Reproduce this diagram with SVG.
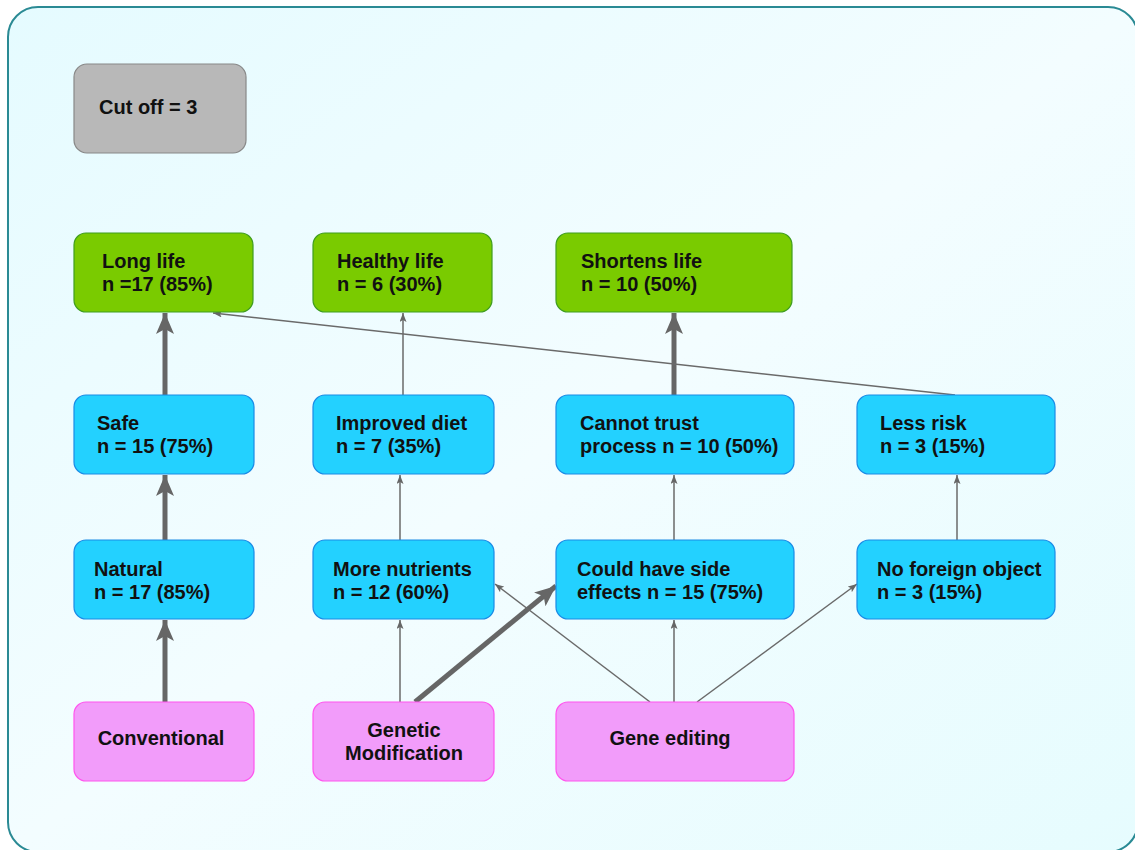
<svg xmlns="http://www.w3.org/2000/svg" width="1135" height="850" viewBox="0 0 1135 850">
<defs>
<linearGradient id="bg" x1="0" y1="0" x2="1" y2="1">
<stop offset="0" stop-color="#e5fbff"/>
<stop offset="0.5" stop-color="#f3fdff"/>
<stop offset="1" stop-color="#e6fcfe"/>
</linearGradient>
<marker id="big" markerUnits="userSpaceOnUse" markerWidth="24" markerHeight="20" refX="21" refY="9" orient="auto">
<path d="M0,0 L21,9 L0,18 L5,9 Z" fill="#666"/>
</marker>
<marker id="small" markerUnits="userSpaceOnUse" markerWidth="11" markerHeight="8" refX="9" refY="3.5" orient="auto">
<path d="M0,0 L9,3.5 L0,7 L2,3.5 Z" fill="#666"/>
</marker>
<style>
.t{font-family:"Liberation Sans",Arial,sans-serif;font-size:20px;font-weight:bold;fill:#111}
.c{text-anchor:middle}
.grn{fill:#7acb00;stroke:#3f9d1f;stroke-width:1.2}
.blu{fill:#23d1ff;stroke:#1a8be6;stroke-width:1.2}
.pnk{fill:#f29cfa;stroke:#ff55ee;stroke-width:1.2}
.gry{fill:#b8b8b8;stroke:#888;stroke-width:1.2}
.thin{stroke:#6a6a6a;stroke-width:1.5;fill:none;marker-end:url(#small)}
.thick{stroke:#666;stroke-width:5;fill:none;marker-end:url(#big)}
</style>
</defs>
<rect x="8" y="7" width="1130" height="845" rx="30" fill="url(#bg)" stroke="#2a8a94" stroke-width="2"/>

<g id="connectors">
<line class="thick" x1="165" y1="702" x2="165" y2="620"/>
<line class="thick" x1="165" y1="540" x2="165" y2="475"/>
<line class="thick" x1="165" y1="395" x2="165" y2="313"/>
<line class="thin" x1="400" y1="702" x2="400" y2="620"/>
<line class="thick" x1="415" y1="702" x2="556" y2="586"/>
<line class="thin" x1="650" y1="702" x2="495" y2="584"/>
<line class="thin" x1="674" y1="702" x2="674" y2="620"/>
<line class="thin" x1="697" y1="702" x2="857" y2="584"/>
<line class="thin" x1="400" y1="540" x2="400" y2="475"/>
<line class="thin" x1="403" y1="395" x2="403" y2="313"/>
<line class="thin" x1="674" y1="540" x2="674" y2="475"/>
<line class="thick" x1="674" y1="395" x2="674" y2="313"/>
<line class="thin" x1="957" y1="540" x2="957" y2="475"/>
<line class="thin" x1="955" y1="395" x2="213" y2="313"/>
</g>

<g id="cutoff"><rect class="gry" x="74" y="64" width="172" height="89" rx="13"/><text class="t" x="99" y="114">Cut off = 3</text></g>

<g id="longlife"><rect class="grn" x="74" y="233" width="179" height="79" rx="12"/><text class="t" x="102" y="268">Long life</text><text class="t" x="102" y="291">n =17 (85%)</text></g>
<g id="healthylife"><rect class="grn" x="313" y="233" width="179" height="79" rx="12"/><text class="t" x="337" y="268">Healthy life</text><text class="t" x="337" y="291">n = 6 (30%)</text></g>
<g id="shortenslife"><rect class="grn" x="556" y="233" width="236" height="79" rx="12"/><text class="t" x="581" y="268">Shortens life</text><text class="t" x="581" y="291">n = 10 (50%)</text></g>

<g id="safe"><rect class="blu" x="74" y="395" width="180" height="79" rx="12"/><text class="t" x="97" y="430">Safe</text><text class="t" x="97" y="453">n = 15 (75%)</text></g>
<g id="improveddiet"><rect class="blu" x="313" y="395" width="181" height="79" rx="12"/><text class="t" x="336" y="430">Improved diet</text><text class="t" x="336" y="453">n = 7 (35%)</text></g>
<g id="cannottrust"><rect class="blu" x="556" y="395" width="238" height="79" rx="12"/><text class="t" x="580" y="430">Cannot trust</text><text class="t" x="580" y="453">process n = 10 (50%)</text></g>
<g id="lessrisk"><rect class="blu" x="857" y="395" width="198" height="79" rx="12"/><text class="t" x="880" y="430">Less risk</text><text class="t" x="880" y="453">n = 3 (15%)</text></g>

<g id="natural"><rect class="blu" x="74" y="540" width="180" height="79" rx="12"/><text class="t" x="94" y="576">Natural</text><text class="t" x="94" y="599">n = 17 (85%)</text></g>
<g id="morenutrients"><rect class="blu" x="313" y="540" width="181" height="79" rx="12"/><text class="t" x="333" y="576">More nutrients</text><text class="t" x="333" y="599">n = 12 (60%)</text></g>
<g id="sideeffects"><rect class="blu" x="556" y="540" width="238" height="79" rx="12"/><text class="t" x="577" y="576">Could have side</text><text class="t" x="577" y="599">effects n = 15 (75%)</text></g>
<g id="noforeign"><rect class="blu" x="857" y="540" width="198" height="79" rx="12"/><text class="t" x="877" y="576">No foreign object</text><text class="t" x="877" y="599">n = 3 (15%)</text></g>

<g id="conventional"><rect class="pnk" x="74" y="702" width="180" height="79" rx="12"/><text class="t c" x="161" y="745">Conventional</text></g>
<g id="gm"><rect class="pnk" x="313" y="702" width="181" height="79" rx="12"/><text class="t c" x="404" y="737">Genetic</text><text class="t c" x="404" y="760">Modification</text></g>
<g id="geneediting"><rect class="pnk" x="556" y="702" width="238" height="79" rx="12"/><text class="t c" x="670" y="745">Gene editing</text></g>
</svg>
